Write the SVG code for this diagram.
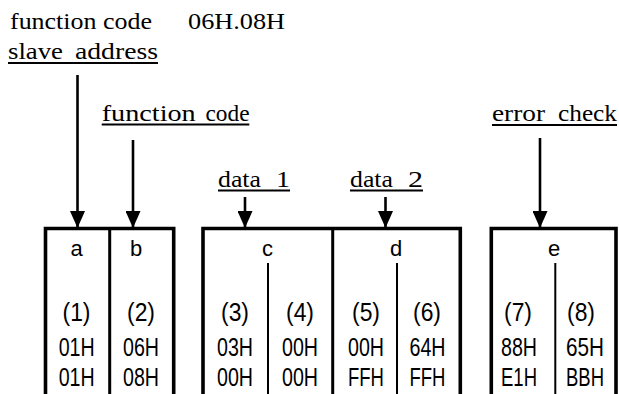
<svg xmlns="http://www.w3.org/2000/svg" width="619" height="394" viewBox="0 0 619 394">
<style>
.ul{stroke:#000;stroke-width:2}
.frame{fill:none;stroke:#000;stroke-width:3.6}
.thick{stroke:#000;stroke-width:3}
.thin{stroke:#000;stroke-width:2}
.conn{stroke:#000;stroke-width:2.6;fill:none}
</style>
<defs>
<marker id="ah" viewBox="0 0 17 15" refX="16" refY="7.5" markerWidth="17" markerHeight="15" markerUnits="userSpaceOnUse" orient="auto">
<path d="M0,0 L17,7.5 L0,15 Z" fill="#000"/>
</marker>
</defs>

<g font-family="Liberation Serif, Times New Roman, serif" font-size="24" fill="#000" lengthAdjust="spacingAndGlyphs">
<g id="titles">
<text x="10" y="28.5" textLength="142" lengthAdjust="spacingAndGlyphs">function code</text>
<text x="188" y="28.5" textLength="97" lengthAdjust="spacingAndGlyphs">06H.08H</text>
</g>
<g id="label-slave-address">
<text x="8" y="58.5" textLength="55" lengthAdjust="spacingAndGlyphs">slave</text>
<text x="75" y="58.5" textLength="83" lengthAdjust="spacingAndGlyphs">address</text>
<line class="ul" x1="8" y1="63" x2="158" y2="63"/>
</g>
<g id="label-function-code">
<text x="101.7" y="121" textLength="94" lengthAdjust="spacingAndGlyphs">function</text>
<text x="205.5" y="121" textLength="44" lengthAdjust="spacingAndGlyphs">code</text>
<line class="ul" x1="101.7" y1="124.5" x2="249.3" y2="124.5"/>
</g>
<g id="label-data1">
<text x="218" y="187" textLength="43" lengthAdjust="spacingAndGlyphs">data</text>
<text x="276" y="187" textLength="14" lengthAdjust="spacingAndGlyphs">1</text>
<line class="ul" x1="218" y1="190.5" x2="290" y2="190.5"/>
</g>
<g id="label-data2">
<text x="350" y="187" textLength="43" lengthAdjust="spacingAndGlyphs">data</text>
<text x="408" y="187" textLength="15" lengthAdjust="spacingAndGlyphs">2</text>
<line class="ul" x1="350" y1="190.5" x2="423" y2="190.5"/>
</g>
<g id="label-error-check">
<text x="492" y="121" textLength="53" lengthAdjust="spacingAndGlyphs">error</text>
<text x="558" y="121" textLength="59" lengthAdjust="spacingAndGlyphs">check</text>
<line class="ul" x1="492" y1="125" x2="617" y2="125"/>
</g>
</g>

<g id="connectors">
<line class="conn" x1="77.5" y1="75" x2="77.5" y2="227" marker-end="url(#ah)"/>
<line class="conn" x1="133" y1="140" x2="133" y2="227" marker-end="url(#ah)"/>
<line class="conn" x1="245" y1="197" x2="245" y2="227" marker-end="url(#ah)"/>
<line class="conn" x1="385.5" y1="197" x2="385.5" y2="227" marker-end="url(#ah)"/>
<line class="conn" x1="540" y1="138" x2="540" y2="227" marker-end="url(#ah)"/>
</g>

<g font-family="Liberation Sans, Arial, sans-serif" fill="#000" text-anchor="middle">
<g id="box-ab">
<path class="frame" d="M45.5,400 V228.5 H173.7 V400"/>
<line class="thick" x1="109.7" y1="228.5" x2="109.7" y2="400"/>
<g font-size="22">
<text x="76.5" y="256">a</text>
<text x="136" y="256">b</text>
</g>
<g font-size="25">
<text x="76.5" y="321" textLength="28" lengthAdjust="spacingAndGlyphs">(1)</text>
<text x="76.7" y="355.5" textLength="36" lengthAdjust="spacingAndGlyphs">01H</text>
<text x="76.7" y="385.5" textLength="36" lengthAdjust="spacingAndGlyphs">01H</text>
<text x="141" y="321" textLength="28" lengthAdjust="spacingAndGlyphs">(2)</text>
<text x="141" y="355.5" textLength="36" lengthAdjust="spacingAndGlyphs">06H</text>
<text x="141" y="385.5" textLength="36" lengthAdjust="spacingAndGlyphs">08H</text>
</g>
</g>

<g id="box-cd">
<path class="frame" d="M203,400 V228.5 H460.3 V400"/>
<line class="thick" x1="332.7" y1="228.5" x2="332.7" y2="400"/>
<line class="thin" x1="268" y1="263" x2="268" y2="400"/>
<line class="thin" x1="397" y1="263" x2="397" y2="400"/>
<g font-size="22">
<text x="267.5" y="256">c</text>
<text x="396" y="256">d</text>
</g>
<g font-size="25">
<text x="235" y="321" textLength="28" lengthAdjust="spacingAndGlyphs">(3)</text>
<text x="235" y="355.5" textLength="36" lengthAdjust="spacingAndGlyphs">03H</text>
<text x="235" y="385.5" textLength="36" lengthAdjust="spacingAndGlyphs">00H</text>
<text x="300" y="321" textLength="28" lengthAdjust="spacingAndGlyphs">(4)</text>
<text x="300" y="355.5" textLength="36" lengthAdjust="spacingAndGlyphs">00H</text>
<text x="300" y="385.5" textLength="36" lengthAdjust="spacingAndGlyphs">00H</text>
<text x="366" y="321" textLength="28" lengthAdjust="spacingAndGlyphs">(5)</text>
<text x="366" y="355.5" textLength="36" lengthAdjust="spacingAndGlyphs">00H</text>
<text x="366" y="385.5" textLength="36" lengthAdjust="spacingAndGlyphs">FFH</text>
<text x="427" y="321" textLength="28" lengthAdjust="spacingAndGlyphs">(6)</text>
<text x="427.5" y="355.5" textLength="36" lengthAdjust="spacingAndGlyphs">64H</text>
<text x="427.5" y="385.5" textLength="36" lengthAdjust="spacingAndGlyphs">FFH</text>
</g>
</g>

<g id="box-e">
<path class="frame" d="M491.3,400 V228.5 H616 V400"/>
<line class="thin" x1="555.3" y1="263" x2="555.3" y2="400"/>
<g font-size="22">
<text x="554" y="256">e</text>
</g>
<g font-size="25">
<text x="518" y="321" textLength="28" lengthAdjust="spacingAndGlyphs">(7)</text>
<text x="519" y="355.5" textLength="36" lengthAdjust="spacingAndGlyphs">88H</text>
<text x="519" y="385.5" textLength="36" lengthAdjust="spacingAndGlyphs">E1H</text>
<text x="581" y="321" textLength="28" lengthAdjust="spacingAndGlyphs">(8)</text>
<text x="585" y="355.5" textLength="38" lengthAdjust="spacingAndGlyphs">65H</text>
<text x="585" y="385.5" textLength="38" lengthAdjust="spacingAndGlyphs">BBH</text>
</g>
</g>
</g>
</svg>
